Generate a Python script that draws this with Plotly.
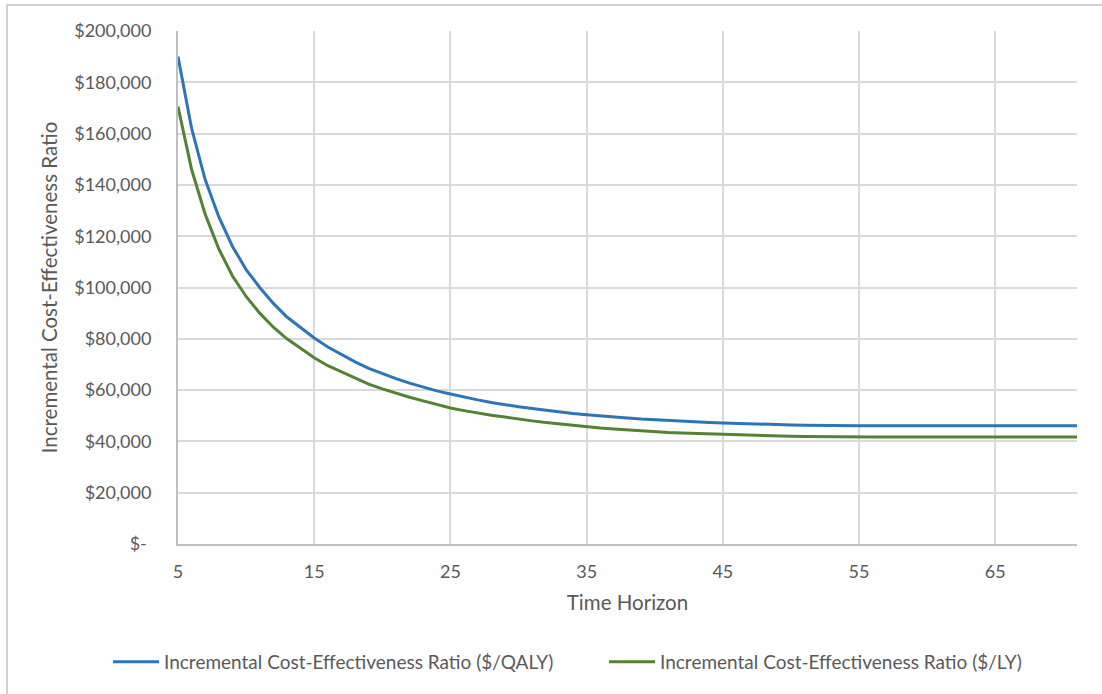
import plotly.graph_objects as go

years = list(range(5, 72))
icer_qaly = [190.0, 162.0, 142.0, 127.5, 116.0, 107.0, 100.0, 93.8, 88.5, 84.3,
             80.3, 76.8, 73.8, 71.0, 68.5, 66.4, 64.5, 62.7, 61.1, 59.7,
             58.5, 57.2, 56.2, 55.2, 54.3, 53.5, 52.8, 52.1, 51.4, 50.9,
             50.4, 49.9, 49.5, 49.1, 48.7, 48.4, 48.1, 47.8, 47.6, 47.4,
             47.2, 47.0, 46.8, 46.6, 46.5, 46.4, 46.3, 46.2, 46.1] + [46.1] * 18
icer_ly = [170.5, 146.0, 128.5, 115.0, 104.5, 96.5, 90.0, 84.5, 80.0, 76.3,
           72.6, 69.5, 67.0, 64.5, 62.3, 60.5, 58.8, 57.2, 55.8, 54.3,
           53.0, 52.0, 51.0, 50.2, 49.5, 48.7, 48.0, 47.4, 46.8, 46.2,
           45.7, 45.2, 44.8, 44.4, 44.1, 43.8, 43.5, 43.3, 43.1, 42.9,
           42.8, 42.6, 42.4, 42.3, 42.1, 42.0, 41.9, 41.8, 41.7] + [41.7] * 18
icer_qaly = [v * 1000 for v in icer_qaly]
icer_ly = [v * 1000 for v in icer_ly]

y_ticks = [0, 20000, 40000, 60000, 80000, 100000, 120000, 140000, 160000, 180000, 200000]
y_tick_text = ["$-\u00a0", "$20,000", "$40,000", "$60,000", "$80,000", "$100,000",
               "$120,000", "$140,000", "$160,000", "$180,000", "$200,000"]
x_ticks = [5, 15, 25, 35, 45, 55, 65]

series_names = ["Incremental Cost-Effectiveness Ratio ($/QALY)",
                "Incremental Cost-Effectiveness Ratio ($/LY)"]

FONT = "Lato"
TXT = "#595959"
GRID = "#d9d9d9"

fig = go.Figure()
fig.add_trace(go.Scatter(x=years, y=icer_qaly, mode="lines", name=series_names[0],
                         line=dict(color="#2E75B6", width=3), legend="legend"))
fig.add_trace(go.Scatter(x=years, y=icer_ly, mode="lines", name=series_names[1],
                         line=dict(color="#548235", width=3), legend="legend2"))

leg_common = dict(orientation="h", yanchor="middle", y=(544 - 662) / 513,
                  font=dict(size=19, color=TXT), itemwidth=46,
                  bgcolor="rgba(0,0,0,0)", xanchor="left")

fig.update_layout(
    width=1102, height=694,
    margin=dict(l=178, r=25, t=31, b=150),
    paper_bgcolor="white", plot_bgcolor="white",
    font=dict(family=FONT, size=18, color=TXT),
    showlegend=True,
    legend=dict(x=(108 - 178) / 899, **leg_common),
    legend2=dict(x=(604 - 178) / 899, **leg_common),
    xaxis=dict(range=[5, 71], tickmode="array", tickvals=x_ticks,
               showgrid=True, gridcolor=GRID, gridwidth=2,
               showline=True, linecolor="#bfbfbf", linewidth=2,
               zeroline=False, ticks="", ticklabelstandoff=10,
               title=dict(text="Time Horizon", font=dict(size=20.5, color=TXT), standoff=15),
               tickfont=dict(size=18, color=TXT)),
    yaxis=dict(range=[0, 200000], tickmode="array", tickvals=y_ticks, ticktext=y_tick_text,
               showgrid=True, gridcolor=GRID, gridwidth=2,
               showline=True, linecolor="#bfbfbf", linewidth=2,
               zeroline=False, ticks="", ticklabelstandoff=21,
               title=dict(text="Incremental Cost-Effectiveness Ratio", font=dict(size=20.5, color=TXT), standoff=11),
               tickfont=dict(size=18, color=TXT)),
)

fig.add_shape(type="rect", xref="paper", yref="paper",
              x0=(7 - 178) / 899, x1=(1110 - 178) / 899,
              y0=(544 - 710) / 513, y1=(544 - 5) / 513,
              line=dict(color="#d0d0d0", width=2), fillcolor="rgba(0,0,0,0)", layer="below")

fig.write_html("out.html")
